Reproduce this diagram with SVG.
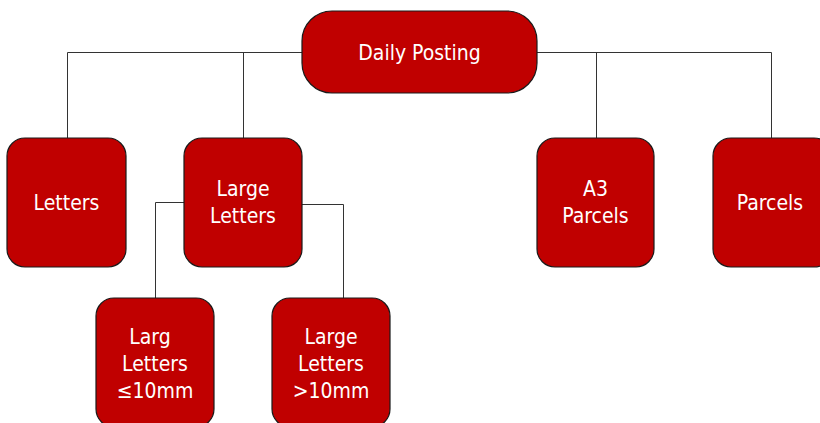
<svg xmlns="http://www.w3.org/2000/svg" width="820" height="423" viewBox="0 0 820 423">
  <style>
    .box { fill: #c00000; stroke: #1a1a1a; stroke-width: 1.2; }
    .lbl { fill: #ffffff; font-family: "DejaVu Sans Condensed", "Liberation Sans", Arial, sans-serif; font-size: 21px; text-anchor: middle; }
    .wire { fill: none; stroke: #333333; stroke-width: 1; }
  </style>
  <rect width="820" height="423" fill="#ffffff"/>

  <!-- connectors -->
  <g id="connectors">
    <path class="wire" d="M302,52.5 H67.5 V138"/>
    <path class="wire" d="M243.5,52.5 V138"/>
    <path class="wire" d="M537,52.5 H771.5 V138"/>
    <path class="wire" d="M596.5,52.5 V138"/>
    <path class="wire" d="M184,202.5 H155.5 V298"/>
    <path class="wire" d="M302,204.5 H343.5 V298"/>
  </g>

  <g id="daily-posting">
    <rect class="box" x="302" y="11" width="235" height="82" rx="30"/>
    <text class="lbl" x="419.5" y="59.5">Daily Posting</text>
  </g>

  <g id="letters">
    <rect class="box" x="7" y="138" width="119" height="129" rx="18"/>
    <text class="lbl" x="66.5" y="209.5">Letters</text>
  </g>

  <g id="large-letters">
    <rect class="box" x="184" y="138" width="118" height="129" rx="18"/>
    <text class="lbl" x="243" y="195.5">Large</text>
    <text class="lbl" x="243" y="222.5">Letters</text>
  </g>

  <g id="a3-parcels">
    <rect class="box" x="537" y="138" width="117" height="129" rx="18"/>
    <text class="lbl" x="595.5" y="195.5">A3</text>
    <text class="lbl" x="595.5" y="222.5">Parcels</text>
  </g>

  <g id="parcels">
    <rect class="box" x="713" y="138" width="119" height="129" rx="18"/>
    <text class="lbl" x="770" y="209.5">Parcels</text>
  </g>

  <g id="large-letters-small">
    <rect class="box" x="96" y="298" width="118" height="129" rx="18"/>
    <text class="lbl" x="150" y="343.5">Larg</text>
    <text class="lbl" x="155" y="370.5">Letters</text>
    <text class="lbl" x="155" y="397.5">≤10mm</text>
  </g>

  <g id="large-letters-big">
    <rect class="box" x="272" y="298" width="118" height="129" rx="18"/>
    <text class="lbl" x="331" y="343.5">Large</text>
    <text class="lbl" x="331" y="370.5">Letters</text>
    <text class="lbl" x="331" y="397.5">&gt;10mm</text>
  </g>
</svg>
